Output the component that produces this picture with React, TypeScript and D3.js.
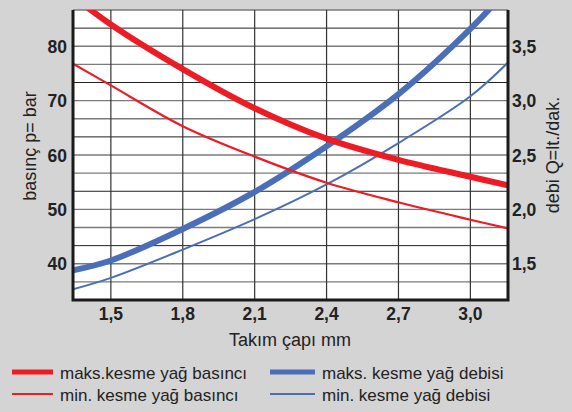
import React, { useEffect, useRef } from 'react';
import * as d3 from 'd3';

// Takım çapı (mm) sample points
const diameters = [1.342, 1.5, 1.8, 2.1, 2.4, 2.7, 3.0, 3.157];
// pressure, bar (left axis)
const maxPressure = [89.2, 84.0, 75.8, 68.6, 63.0, 59.1, 56.0, 54.4];
const minPressure = [76.8, 72.8, 65.3, 59.7, 54.9, 51.3, 48.1, 46.5];
// flow, lt./dak. (right axis)
const maxFlow = [1.44, 1.53, 1.82, 2.16, 2.58, 3.06, 3.66, 4.03];
const minFlow = [1.265, 1.37, 1.63, 1.91, 2.23, 2.61, 3.04, 3.35];

const xTicks = [1.5, 1.8, 2.1, 2.4, 2.7, 3.0];
const pressureTicks = [40, 50, 60, 70, 80];
const flowTicks = [1.5, 2.0, 2.5, 3.0, 3.5];

const legendItems = [
  { label: 'maks.kesme yağ basıncı', color: '#ed1c24', width: 5, col: 0, row: 0 },
  { label: 'min. kesme yağ basıncı', color: '#ed1c24', width: 2, col: 0, row: 1 },
  { label: 'maks. kesme yağ debisi', color: '#4a6fb8', width: 5, col: 1, row: 0 },
  { label: 'min. kesme yağ debisi', color: '#4a6fb8', width: 2, col: 1, row: 1 },
];

const W = 572;
const H = 412;
const font = '"Liberation Sans", Arial, sans-serif';
const fmt = (v: number) => v.toFixed(1).replace('.', ',');

const App: React.FC = () => {
  const ref = useRef<SVGSVGElement>(null);

  useEffect(() => {
    if (!ref.current) return;
    const svg = d3.select(ref.current);
    svg.selectAll('*').remove();

    const plot = { left: 73, right: 508, top: 10, bottom: 300 };

    const x = d3.scaleLinear().domain([1.342, 3.157]).range([plot.left, plot.right]);
    const yP = d3.scaleLinear().domain([100 / 3, 260 / 3]).range([plot.bottom, plot.top]);
    const yQ = d3.scaleLinear().domain([3.5 / 3, 11.5 / 3]).range([plot.bottom, plot.top]);

    svg.append('rect').attr('width', W).attr('height', H).attr('fill', '#d4d4d4');

    svg
      .append('rect')
      .attr('x', plot.left)
      .attr('y', plot.top)
      .attr('width', plot.right - plot.left)
      .attr('height', plot.bottom - plot.top)
      .attr('fill', '#fff');

    // horizontal grid every 1/3 of 10 bar
    const gridVals = d3.range(1, 16).map(i => 100 / 3 + (i * 10) / 3);
    svg
      .append('g')
      .selectAll('line')
      .data(gridVals)
      .enter()
      .append('line')
      .attr('x1', plot.left)
      .attr('x2', plot.right)
      .attr('y1', d => yP(d))
      .attr('y2', d => yP(d))
      .attr('stroke', (d, i) => (i % 3 === 2 ? '#222' : '#7a7a7a'))
      .attr('stroke-width', (d, i) => (i % 3 === 2 ? 1 : 1.4));

    // top border acts like a grid line
    svg
      .append('line')
      .attr('x1', plot.left)
      .attr('x2', plot.right)
      .attr('y1', plot.top)
      .attr('y2', plot.top)
      .attr('stroke', '#7a7a7a')
      .attr('stroke-width', 1.4);

    svg
      .append('g')
      .selectAll('line')
      .data(xTicks)
      .enter()
      .append('line')
      .attr('x1', d => x(d))
      .attr('x2', d => x(d))
      .attr('y1', plot.top)
      .attr('y2', plot.bottom)
      .attr('stroke', '#333')
      .attr('stroke-width', 1.2);

    svg
      .append('clipPath')
      .attr('id', 'plot-clip')
      .append('rect')
      .attr('x', plot.left)
      .attr('y', plot.top)
      .attr('width', plot.right - plot.left)
      .attr('height', plot.bottom - plot.top);

    const curves = svg.append('g').attr('clip-path', 'url(#plot-clip)');
    const series = [
      { values: minFlow, y: yQ, color: '#4a6fb8', width: 2 },
      { values: maxFlow, y: yQ, color: '#4a6fb8', width: 6 },
      { values: minPressure, y: yP, color: '#ed1c24', width: 2.2 },
      { values: maxPressure, y: yP, color: '#ed1c24', width: 6 },
    ];
    series.forEach(s => {
      const line = d3
        .line<number>()
        .x((d, i) => x(diameters[i]))
        .y(d => s.y(d))
        .curve(d3.curveCatmullRom.alpha(0.5));
      curves
        .append('path')
        .datum(s.values)
        .attr('fill', 'none')
        .attr('stroke', s.color)
        .attr('stroke-width', s.width)
        .attr('d', line);
    });

    // axis frame: left, bottom, right
    svg
      .append('path')
      .attr('d', `M${plot.left},${plot.top} V${plot.bottom} H${plot.right} V${plot.top}`)
      .attr('stroke', '#1a1a1a')
      .attr('stroke-width', 3)
      .attr('fill', 'none');

    const ticks = svg
      .append('g')
      .attr('font-family', font)
      .attr('font-weight', 'bold')
      .attr('font-size', 17.5)
      .attr('fill', '#222');

    ticks
      .selectAll('text.x')
      .data(xTicks)
      .enter()
      .append('text')
      .attr('x', d => x(d))
      .attr('y', 320)
      .attr('text-anchor', 'middle')
      .text(d => fmt(d));

    ticks
      .selectAll('text.p')
      .data(pressureTicks)
      .enter()
      .append('text')
      .attr('x', 67)
      .attr('y', d => yP(d) + 6.5)
      .attr('text-anchor', 'end')
      .text(d => String(d));

    ticks
      .selectAll('text.q')
      .data(flowTicks)
      .enter()
      .append('text')
      .attr('x', 512)
      .attr('y', d => yQ(d) + 6.5)
      .attr('text-anchor', 'start')
      .text(d => fmt(d));

    const titles = svg.append('g').attr('font-family', font).attr('font-size', 18).attr('fill', '#222');
    titles
      .append('text')
      .attr('x', 290)
      .attr('y', 346)
      .attr('text-anchor', 'middle')
      .text('Takım çapı mm');
    titles
      .append('text')
      .attr('transform', `translate(36,146) rotate(-90)`)
      .attr('text-anchor', 'middle')
      .text('basınç p= bar');
    titles
      .append('text')
      .attr('transform', `translate(559,155) rotate(-90)`)
      .attr('text-anchor', 'middle')
      .text('debi Q=lt./dak.');

    const legend = svg.append('g').attr('font-family', font).attr('font-size', 17).attr('fill', '#222');
    const cols = [
      { x1: 12, x2: 53, tx: 60 },
      { x1: 270, x2: 315, tx: 322 },
    ];
    const rows = [372, 394];
    legendItems.forEach(item => {
      const c = cols[item.col];
      const ry = rows[item.row];
      legend
        .append('line')
        .attr('x1', c.x1)
        .attr('x2', c.x2)
        .attr('y1', ry)
        .attr('y2', ry)
        .attr('stroke', item.color)
        .attr('stroke-width', item.width);
      legend
        .append('text')
        .attr('x', c.tx)
        .attr('y', ry + 6.5)
        .text(item.label);
    });
  }, []);

  return (
    <div style={{ position: 'fixed', left: 0, top: 0 }}>
      <svg ref={ref} width={W} height={H} style={{ display: 'block' }} />
    </div>
  );
};

export default App;
